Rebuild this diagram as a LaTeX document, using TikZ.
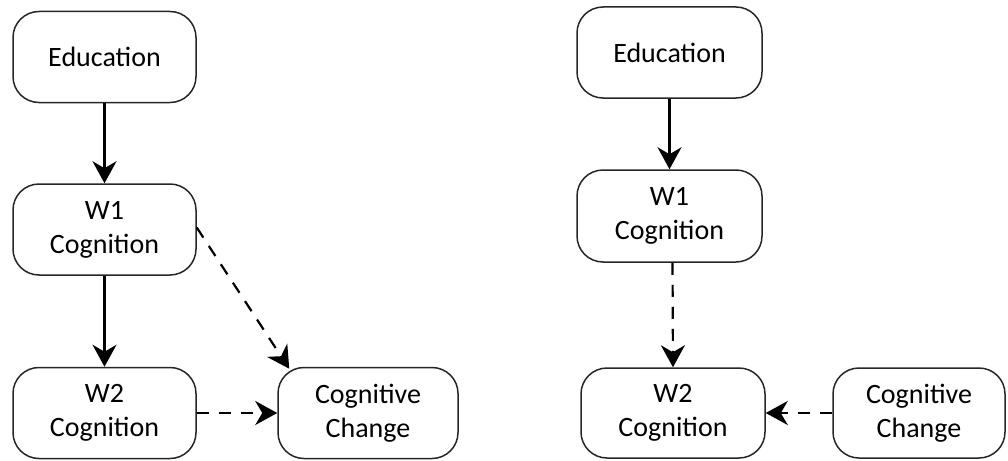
\documentclass[tikz,border=0pt]{standalone}
\usepackage{fontspec}
\setmainfont{Carlito}
\usetikzlibrary{arrows.meta,calc}
\begin{document}
\begin{tikzpicture}[x=1pt,y=-1pt,
  box/.style={draw=black!85, rounded corners=26pt, line width=1.5pt, minimum width=183pt, minimum height=91pt,
    align=center, inner sep=0pt, text=black, font=\fontsize{28}{34}\selectfont},
  conn/.style={line width=2.2pt, black, -{Stealth[length=22pt,width=24pt,inset=7pt]}},
  dconn/.style={conn, dash pattern=on 12pt off 10pt}]
\useasboundingbox (0,0) rectangle (1008,460);
% left panel
\node[box] (edu1) at (104.5,57) {Education};
\node[box] (w1a) at (104.5,229.5) {W1\\Cognition};
\node[box] (w2a) at (104.5,413) {W2\\Cognition};
\node[box, minimum width=180pt] (cca) at (368,413) {Cognitive\\Change};
\draw[conn] (edu1) -- (w1a);
\draw[conn] (w1a) -- (w2a);
\draw[dconn] ($(w1a.east)+(0,-2)$) -- ($(cca.north west)+(12,2)$);
\draw[dconn] (w2a.east) -- (cca.west);
% right panel
\node[box, minimum width=185pt] (edu2) at (669.5,52.5) {Education};
\node[box, minimum width=185pt, minimum height=92pt] (w1b) at (669.5,216) {W1\\Cognition};
\node[box, minimum width=184pt, minimum height=90pt] (w2b) at (673,413) {W2\\Cognition};
\node[box, minimum width=172pt, minimum height=90pt] (ccb) at (919,413) {Cognitive\\Change};
\draw[conn] (edu2) -- (w1b);
\draw[dconn] ($(w1b.south)+(3,0)$) -- ($(w2b.north)$);
\draw[dconn] (ccb.west) -- (w2b.east);
\end{tikzpicture}
\end{document}
